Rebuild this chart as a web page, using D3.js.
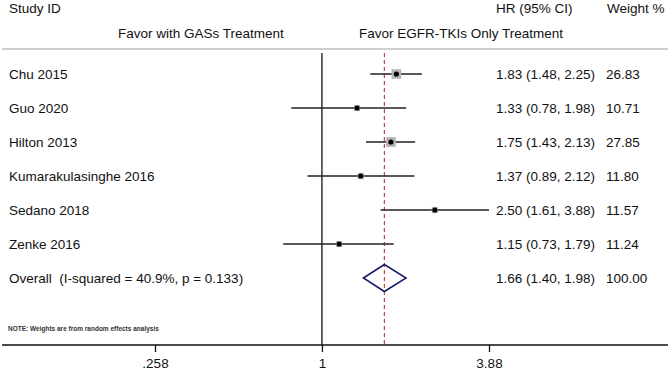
<!DOCTYPE html>
<html>
<head>
<meta charset="utf-8">
<script src="https://cdn.jsdelivr.net/npm/d3@7"></script>
<style>
  body { margin: 0; background: #fff; }
  text { font-family: "Liberation Sans", Arial, sans-serif; fill: #111; white-space: pre; }
</style>
</head>
<body>
<div id="chart"></div>
<script>
// data
const studies = ["Chu 2015", "Guo 2020", "Hilton 2013", "Kumarakulasinghe 2016", "Sedano 2018", "Zenke 2016"];
const hr = [1.83, 1.33, 1.75, 1.37, 2.50, 1.15];
const lower = [1.48, 0.78, 1.43, 0.89, 1.61, 0.73];
const upper = [2.25, 1.98, 2.13, 2.12, 3.88, 1.79];
const weights = [26.83, 10.71, 27.85, 11.80, 11.57, 11.24];
const overallLabel = "Overall  (I-squared = 40.9%, p = 0.133)";
const overallHr = 1.66, overallLo = 1.40, overallHi = 1.98, overallWeight = 100.00;
const tickValues = [0.258, 1, 3.88];
const tickLabels = [".258", "1", "3.88"];

const width = 671, height = 371;
const topLine = 49, axisY = 345;
const fs = "13.5px";

const svg = d3.select("#chart").append("svg")
  .attr("width", width).attr("height", height);

const x = d3.scaleLog().domain([0.258, 3.88]).range([155, 489]);
const rows = studies.concat([overallLabel]);
const y = d3.scalePoint().domain(d3.range(rows.length)).range([74, 278]);

const fmt = d3.format(".2f");

function label(tx, ty, str) {
  return svg.append("text").attr("x", tx).attr("y", ty).attr("dy", "0.35em")
    .style("font-size", fs).text(str);
}

// headers
label(9, 8, "Study ID");
label(496, 8, "HR (95% CI)");
label(607, 8, "Weight %");
label(118, 33, "Favor with GASs Treatment");
label(359, 33, "Favor EGFR-TKIs Only Treatment");

// top separator
svg.append("line")
  .attr("x1", 2).attr("x2", width - 3)
  .attr("y1", topLine).attr("y2", topLine)
  .attr("stroke", "#cfcfcf").attr("stroke-width", 2);

// null line
svg.append("line")
  .attr("x1", x(1)).attr("x2", x(1))
  .attr("y1", topLine + 4).attr("y2", axisY)
  .attr("stroke", "#111").attr("stroke-width", 1.3);

// overall effect line
svg.append("line")
  .attr("x1", x(overallHr)).attr("x2", x(overallHr))
  .attr("y1", topLine + 4).attr("y2", axisY)
  .attr("stroke", "#c8424a").attr("stroke-width", 1.2)
  .attr("stroke-dasharray", "4,3");

// study rows
studies.forEach((s, i) => {
  const cy = y(i);
  svg.append("line")
    .attr("x1", x(lower[i])).attr("x2", x(upper[i]))
    .attr("y1", cy).attr("y2", cy)
    .attr("stroke", "#222").attr("stroke-width", 1.6);
  const side = 1.85 * Math.sqrt(weights[i]);
  svg.append("rect")
    .attr("x", x(hr[i]) - side / 2).attr("y", cy - side / 2)
    .attr("width", side).attr("height", side)
    .attr("fill", "#b4b4b4");
  svg.append("circle")
    .attr("cx", x(hr[i])).attr("cy", cy).attr("r", 2.6)
    .attr("fill", "#000");
  label(9, cy, s);
  label(496, cy, `${fmt(hr[i])} (${fmt(lower[i])}, ${fmt(upper[i])})`);
  label(606, cy, fmt(weights[i]));
});

// overall diamond
const oy = y(studies.length);
svg.append("path")
  .attr("d", `M${x(overallLo)},${oy} L${x(overallHr)},${oy - 13.5} L${x(overallHi)},${oy} L${x(overallHr)},${oy + 13.5} Z`)
  .attr("fill", "none").attr("stroke", "#1a1a6e").attr("stroke-width", 1.5);
label(9, oy, overallLabel);
label(496, oy, `${fmt(overallHr)} (${fmt(overallLo)}, ${fmt(overallHi)})`);
label(606, oy, fmt(overallWeight));

// note
svg.append("text").attr("x", 8).attr("y", 329).attr("dy", "0.35em")
  .style("font-size", "6.5px").style("font-weight", "bold").style("fill", "#333")
  .text("NOTE: Weights are from random effects analysis");

// x axis
svg.append("line")
  .attr("x1", 2).attr("x2", width - 3)
  .attr("y1", axisY).attr("y2", axisY)
  .attr("stroke", "#111").attr("stroke-width", 1.3);

const axis = d3.axisBottom(x)
  .tickValues(tickValues)
  .tickFormat((d, i) => tickLabels[i])
  .tickSize(7)
  .tickPadding(6);

const ax = svg.append("g")
  .attr("transform", `translate(0,${axisY})`)
  .call(axis);
ax.select(".domain").remove();
ax.selectAll(".tick line").attr("stroke", "#111").attr("stroke-width", 1.3);
ax.selectAll(".tick text")
  .style("font-family", "Liberation Sans, Arial, sans-serif")
  .style("font-size", fs).attr("fill", "#111");
</script>
</body>
</html>
